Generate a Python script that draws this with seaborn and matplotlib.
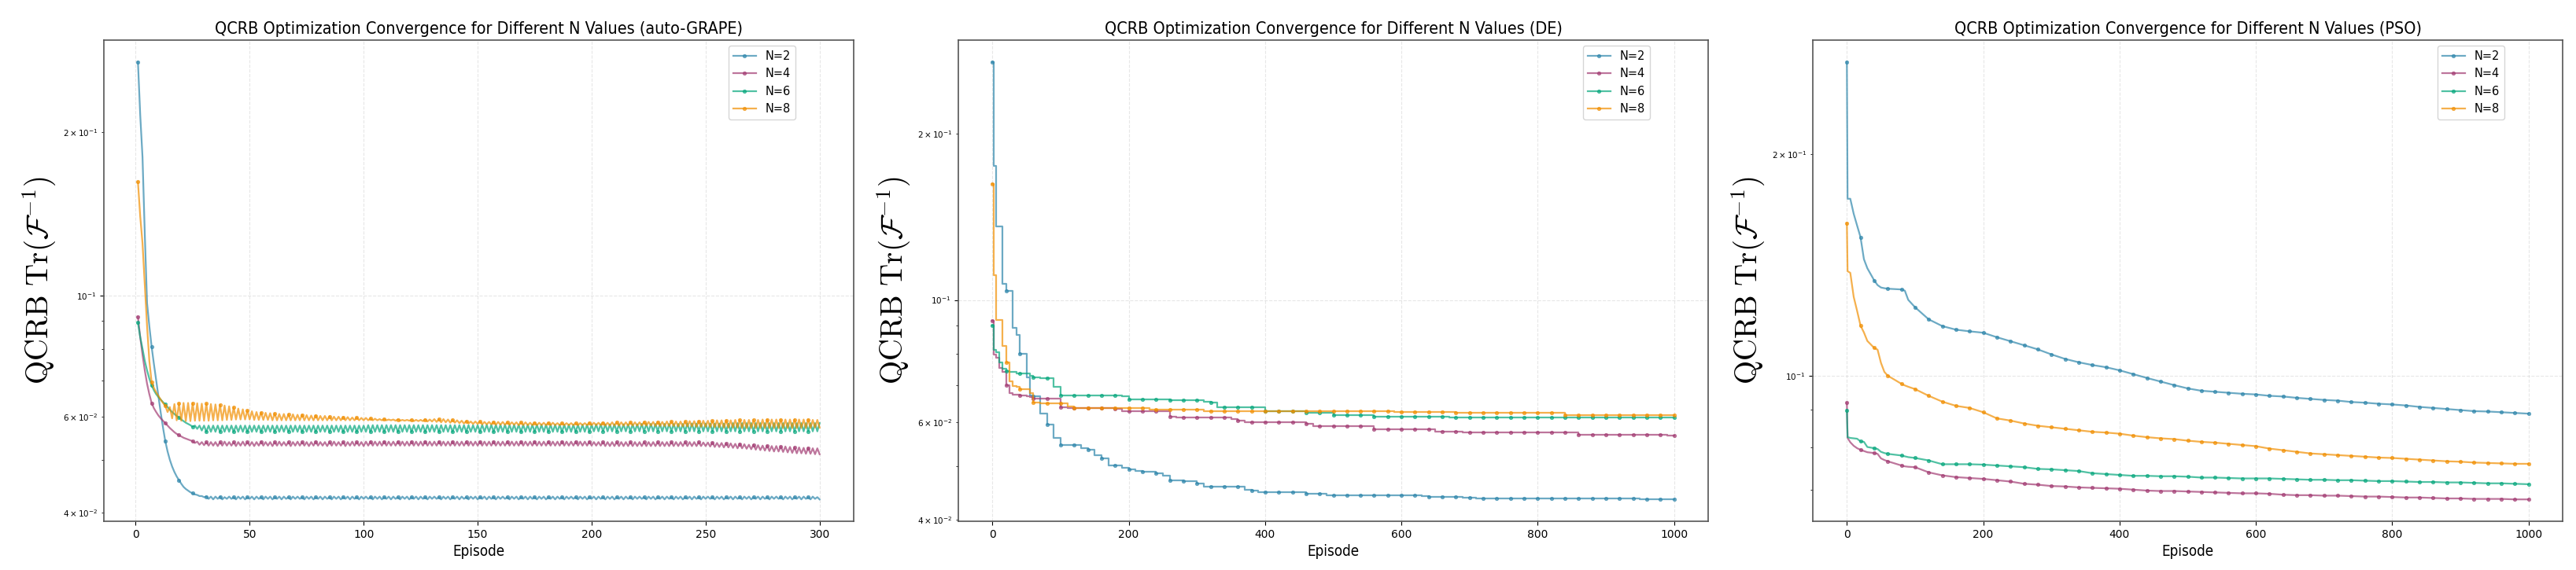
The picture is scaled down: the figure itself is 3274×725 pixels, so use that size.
import matplotlib
matplotlib.use("Agg")
import matplotlib.pyplot as plt
import seaborn as sns

N_LABELS = ["N=2", "N=4", "N=6", "N=8"]
COLORS = ["#2E86AB", "#A23B72", "#06A77D", "#F18F01"]
TITLES = [
    "QCRB Optimization Convergence for Different N Values (auto-GRAPE)",
    "QCRB Optimization Convergence for Different N Values (DE)",
    "QCRB Optimization Convergence for Different N Values (PSO)",
]

# ---- auto-GRAPE: one value per episode, episodes 1..300 ----
AG_N2 = [
    0.269, 0.215, 0.180, 0.130, 0.097, 0.0880, 0.0807, 0.0750, 0.0700, 0.0652,
    0.0610, 0.0573, 0.0541, 0.0518, 0.0500, 0.0486, 0.0475, 0.0466, 0.0459, 0.0452,
    0.0446, 0.0442, 0.0439, 0.0436, 0.0434, 0.0432, 0.0431, 0.0429, 0.0429, 0.0427,
    0.0428, 0.0424, 0.0428, 0.0423, 0.0428, 0.0424, 0.0428, 0.0423, 0.0427, 0.0424,
    0.0428, 0.0424, 0.0427, 0.0423, 0.0428, 0.0424, 0.0428, 0.0423, 0.0427, 0.0424,
    0.0428, 0.0423, 0.0428, 0.0424, 0.0427, 0.0423, 0.0428, 0.0424, 0.0428, 0.0423,
    0.0427, 0.0424, 0.0428, 0.0423, 0.0428, 0.0424, 0.0427, 0.0423, 0.0428, 0.0424,
    0.0428, 0.0424, 0.0427, 0.0423, 0.0428, 0.0424, 0.0428, 0.0423, 0.0427, 0.0424,
    0.0428, 0.0423, 0.0428, 0.0424, 0.0427, 0.0423, 0.0428, 0.0424, 0.0428, 0.0423,
    0.0427, 0.0424, 0.0428, 0.0423, 0.0428, 0.0424, 0.0427, 0.0423, 0.0428, 0.0424,
    0.0428, 0.0424, 0.0427, 0.0423, 0.0428, 0.0424, 0.0428, 0.0423, 0.0427, 0.0424,
    0.0428, 0.0423, 0.0428, 0.0424, 0.0427, 0.0423, 0.0428, 0.0424, 0.0428, 0.0423,
    0.0427, 0.0424, 0.0428, 0.0423, 0.0428, 0.0424, 0.0427, 0.0423, 0.0428, 0.0424,
    0.0428, 0.0424, 0.0427, 0.0423, 0.0428, 0.0424, 0.0428, 0.0423, 0.0427, 0.0424,
    0.0428, 0.0423, 0.0428, 0.0424, 0.0427, 0.0423, 0.0428, 0.0424, 0.0428, 0.0423,
    0.0427, 0.0424, 0.0428, 0.0423, 0.0428, 0.0424, 0.0427, 0.0423, 0.0428, 0.0424,
    0.0428, 0.0424, 0.0427, 0.0423, 0.0428, 0.0424, 0.0428, 0.0423, 0.0427, 0.0424,
    0.0428, 0.0423, 0.0428, 0.0424, 0.0427, 0.0423, 0.0428, 0.0424, 0.0428, 0.0423,
    0.0427, 0.0424, 0.0428, 0.0423, 0.0428, 0.0424, 0.0427, 0.0423, 0.0428, 0.0424,
    0.0428, 0.0424, 0.0427, 0.0423, 0.0428, 0.0424, 0.0428, 0.0423, 0.0427, 0.0424,
    0.0428, 0.0423, 0.0428, 0.0424, 0.0427, 0.0423, 0.0428, 0.0424, 0.0428, 0.0423,
    0.0427, 0.0424, 0.0428, 0.0423, 0.0428, 0.0424, 0.0427, 0.0423, 0.0428, 0.0424,
    0.0428, 0.0424, 0.0427, 0.0423, 0.0428, 0.0424, 0.0428, 0.0423, 0.0427, 0.0424,
    0.0428, 0.0423, 0.0428, 0.0424, 0.0427, 0.0423, 0.0428, 0.0424, 0.0428, 0.0423,
    0.0427, 0.0424, 0.0428, 0.0423, 0.0428, 0.0424, 0.0427, 0.0423, 0.0428, 0.0424,
    0.0428, 0.0424, 0.0427, 0.0423, 0.0428, 0.0424, 0.0428, 0.0423, 0.0427, 0.0424,
    0.0428, 0.0423, 0.0428, 0.0424, 0.0427, 0.0423, 0.0428, 0.0424, 0.0428, 0.0423,
    0.0427, 0.0424, 0.0428, 0.0423, 0.0428, 0.0424, 0.0427, 0.0423, 0.0428, 0.0424,
    0.0428, 0.0424, 0.0427, 0.0423, 0.0428, 0.0424, 0.0428, 0.0423, 0.0427, 0.0424,
    0.0428, 0.0423, 0.0428, 0.0424, 0.0427, 0.0423, 0.0428, 0.0424, 0.0427, 0.0423,
]
AG_N4 = [
    0.0915, 0.0840, 0.0780, 0.0730, 0.0690, 0.0660, 0.0636, 0.0622, 0.0612, 0.0603,
    0.0596, 0.0590, 0.0584, 0.0578, 0.0572, 0.0567, 0.0562, 0.0558, 0.0555, 0.0552,
    0.0549, 0.0547, 0.0545, 0.0543, 0.0541, 0.0537, 0.0540, 0.0533, 0.0539, 0.0532,
    0.0539, 0.0531, 0.0539, 0.0531, 0.0539, 0.0530, 0.0539, 0.0531, 0.0540, 0.0531,
    0.0539, 0.0531, 0.0539, 0.0530, 0.0539, 0.0531, 0.0540, 0.0531, 0.0539, 0.0531,
    0.0539, 0.0530, 0.0539, 0.0531, 0.0540, 0.0531, 0.0539, 0.0531, 0.0539, 0.0530,
    0.0539, 0.0531, 0.0540, 0.0531, 0.0539, 0.0531, 0.0539, 0.0530, 0.0539, 0.0531,
    0.0540, 0.0531, 0.0539, 0.0531, 0.0539, 0.0530, 0.0539, 0.0531, 0.0540, 0.0531,
    0.0539, 0.0531, 0.0539, 0.0530, 0.0539, 0.0531, 0.0540, 0.0531, 0.0539, 0.0531,
    0.0539, 0.0530, 0.0539, 0.0531, 0.0540, 0.0531, 0.0539, 0.0531, 0.0539, 0.0530,
    0.0540, 0.0531, 0.0540, 0.0531, 0.0540, 0.0531, 0.0540, 0.0531, 0.0540, 0.0531,
    0.0540, 0.0531, 0.0540, 0.0531, 0.0540, 0.0531, 0.0540, 0.0531, 0.0540, 0.0531,
    0.0540, 0.0531, 0.0540, 0.0531, 0.0540, 0.0531, 0.0540, 0.0531, 0.0540, 0.0531,
    0.0540, 0.0531, 0.0540, 0.0531, 0.0540, 0.0531, 0.0540, 0.0531, 0.0540, 0.0531,
    0.0540, 0.0531, 0.0540, 0.0531, 0.0540, 0.0531, 0.0540, 0.0531, 0.0540, 0.0531,
    0.0540, 0.0531, 0.0540, 0.0531, 0.0540, 0.0531, 0.0540, 0.0531, 0.0540, 0.0531,
    0.0540, 0.0531, 0.0540, 0.0531, 0.0540, 0.0531, 0.0540, 0.0531, 0.0540, 0.0531,
    0.0540, 0.0531, 0.0540, 0.0531, 0.0540, 0.0531, 0.0540, 0.0531, 0.0540, 0.0531,
    0.0540, 0.0531, 0.0540, 0.0531, 0.0540, 0.0531, 0.0540, 0.0531, 0.0540, 0.0531,
    0.0540, 0.0531, 0.0540, 0.0531, 0.0540, 0.0531, 0.0540, 0.0531, 0.0540, 0.0531,
    0.0539, 0.0531, 0.0539, 0.0531, 0.0539, 0.0530, 0.0539, 0.0530, 0.0539, 0.0530,
    0.0539, 0.0530, 0.0539, 0.0530, 0.0539, 0.0530, 0.0539, 0.0530, 0.0539, 0.0530,
    0.0539, 0.0530, 0.0539, 0.0530, 0.0539, 0.0530, 0.0539, 0.0530, 0.0539, 0.0530,
    0.0539, 0.0530, 0.0539, 0.0530, 0.0539, 0.0530, 0.0539, 0.0530, 0.0539, 0.0530,
    0.0539, 0.0530, 0.0539, 0.0530, 0.0539, 0.0530, 0.0539, 0.0530, 0.0538, 0.0530,
    0.0538, 0.0529, 0.0538, 0.0528, 0.0537, 0.0528, 0.0537, 0.0527, 0.0536, 0.0527,
    0.0536, 0.0526, 0.0535, 0.0525, 0.0535, 0.0525, 0.0534, 0.0524, 0.0533, 0.0523,
    0.0533, 0.0522, 0.0532, 0.0521, 0.0531, 0.0520, 0.0531, 0.0519, 0.0530, 0.0518,
    0.0530, 0.0518, 0.0529, 0.0517, 0.0529, 0.0516, 0.0528, 0.0515, 0.0527, 0.0514,
    0.0527, 0.0514, 0.0526, 0.0513, 0.0526, 0.0513, 0.0525, 0.0512, 0.0525, 0.0512,
]
AG_N6 = [
    0.0893, 0.0840, 0.0800, 0.0760, 0.0730, 0.0705, 0.0685, 0.0671, 0.0660, 0.0652,
    0.0645, 0.0638, 0.0632, 0.0625, 0.0618, 0.0612, 0.0607, 0.0602, 0.0598, 0.0593,
    0.0589, 0.0585, 0.0582, 0.0579, 0.0575, 0.0578, 0.0570, 0.0578, 0.0566, 0.0578,
    0.0563, 0.0578, 0.0563, 0.0578, 0.0563, 0.0578, 0.0563, 0.0578, 0.0563, 0.0578,
    0.0563, 0.0578, 0.0563, 0.0578, 0.0563, 0.0578, 0.0563, 0.0578, 0.0563, 0.0578,
    0.0563, 0.0578, 0.0563, 0.0578, 0.0563, 0.0578, 0.0563, 0.0578, 0.0563, 0.0578,
    0.0563, 0.0578, 0.0563, 0.0578, 0.0563, 0.0578, 0.0563, 0.0578, 0.0563, 0.0578,
    0.0563, 0.0578, 0.0563, 0.0578, 0.0563, 0.0578, 0.0563, 0.0578, 0.0563, 0.0578,
    0.0563, 0.0578, 0.0563, 0.0578, 0.0563, 0.0578, 0.0563, 0.0578, 0.0563, 0.0578,
    0.0563, 0.0578, 0.0563, 0.0578, 0.0563, 0.0578, 0.0563, 0.0578, 0.0563, 0.0578,
    0.0563, 0.0579, 0.0563, 0.0579, 0.0563, 0.0579, 0.0563, 0.0579, 0.0563, 0.0579,
    0.0563, 0.0579, 0.0563, 0.0579, 0.0563, 0.0579, 0.0563, 0.0579, 0.0563, 0.0579,
    0.0563, 0.0579, 0.0563, 0.0579, 0.0563, 0.0579, 0.0563, 0.0579, 0.0563, 0.0579,
    0.0563, 0.0579, 0.0563, 0.0579, 0.0563, 0.0579, 0.0563, 0.0579, 0.0563, 0.0579,
    0.0563, 0.0579, 0.0563, 0.0579, 0.0563, 0.0579, 0.0563, 0.0579, 0.0563, 0.0579,
    0.0563, 0.0580, 0.0563, 0.0580, 0.0563, 0.0580, 0.0563, 0.0580, 0.0563, 0.0580,
    0.0563, 0.0580, 0.0563, 0.0580, 0.0563, 0.0580, 0.0563, 0.0580, 0.0563, 0.0580,
    0.0563, 0.0580, 0.0563, 0.0580, 0.0563, 0.0580, 0.0563, 0.0580, 0.0563, 0.0580,
    0.0563, 0.0580, 0.0563, 0.0580, 0.0563, 0.0580, 0.0563, 0.0580, 0.0563, 0.0580,
    0.0563, 0.0580, 0.0563, 0.0580, 0.0563, 0.0580, 0.0563, 0.0580, 0.0563, 0.0580,
    0.0564, 0.0581, 0.0564, 0.0581, 0.0564, 0.0581, 0.0564, 0.0581, 0.0564, 0.0581,
    0.0564, 0.0581, 0.0564, 0.0581, 0.0564, 0.0581, 0.0564, 0.0581, 0.0564, 0.0581,
    0.0564, 0.0582, 0.0564, 0.0582, 0.0564, 0.0582, 0.0564, 0.0582, 0.0564, 0.0582,
    0.0564, 0.0582, 0.0564, 0.0582, 0.0564, 0.0582, 0.0564, 0.0582, 0.0564, 0.0582,
    0.0564, 0.0583, 0.0564, 0.0583, 0.0564, 0.0583, 0.0564, 0.0583, 0.0564, 0.0583,
    0.0564, 0.0583, 0.0564, 0.0583, 0.0564, 0.0583, 0.0564, 0.0583, 0.0564, 0.0583,
    0.0564, 0.0584, 0.0564, 0.0584, 0.0564, 0.0584, 0.0564, 0.0584, 0.0564, 0.0584,
    0.0564, 0.0584, 0.0564, 0.0584, 0.0564, 0.0584, 0.0564, 0.0584, 0.0564, 0.0584,
    0.0564, 0.0584, 0.0564, 0.0584, 0.0564, 0.0584, 0.0564, 0.0584, 0.0564, 0.0584,
    0.0564, 0.0584, 0.0564, 0.0584, 0.0564, 0.0584, 0.0564, 0.0584, 0.0564, 0.0584,
]
AG_N8 = [
    0.162, 0.140, 0.125, 0.105, 0.088, 0.076, 0.0694, 0.0678, 0.0665, 0.0655,
    0.0645, 0.0636, 0.0628, 0.0612, 0.0625, 0.0596, 0.0633, 0.0591, 0.0635, 0.0590,
    0.0636, 0.0589, 0.0636, 0.0589, 0.0635, 0.0590, 0.0635, 0.0590, 0.0634, 0.0590,
    0.0634, 0.0590, 0.0633, 0.0591, 0.0632, 0.0591, 0.0631, 0.0591, 0.0629, 0.0592,
    0.0627, 0.0592, 0.0624, 0.0593, 0.0621, 0.0593, 0.0619, 0.0593, 0.0616, 0.0593,
    0.0614, 0.0592, 0.0612, 0.0592, 0.0611, 0.0592, 0.0610, 0.0592, 0.0609, 0.0591,
    0.0608, 0.0591, 0.0607, 0.0591, 0.0607, 0.0591, 0.0606, 0.0591, 0.0606, 0.0591,
    0.0605, 0.0591, 0.0605, 0.0591, 0.0604, 0.0591, 0.0603, 0.0591, 0.0603, 0.0591,
    0.0602, 0.0591, 0.0602, 0.0591, 0.0601, 0.0591, 0.0600, 0.0591, 0.0600, 0.0591,
    0.0599, 0.0591, 0.0599, 0.0591, 0.0598, 0.0591, 0.0598, 0.0591, 0.0597, 0.0591,
    0.0597, 0.0591, 0.0596, 0.0591, 0.0595, 0.0591, 0.0594, 0.0591, 0.0594, 0.0591,
    0.0593, 0.0591, 0.0593, 0.0590, 0.0593, 0.0590, 0.0592, 0.0590, 0.0592, 0.0590,
    0.0592, 0.0589, 0.0592, 0.0589, 0.0592, 0.0589, 0.0593, 0.0588, 0.0593, 0.0588,
    0.0594, 0.0587, 0.0594, 0.0586, 0.0594, 0.0586, 0.0593, 0.0585, 0.0592, 0.0585,
    0.0591, 0.0584, 0.0590, 0.0583, 0.0589, 0.0583, 0.0588, 0.0582, 0.0588, 0.0582,
    0.0588, 0.0581, 0.0587, 0.0581, 0.0587, 0.0581, 0.0587, 0.0580, 0.0587, 0.0580,
    0.0587, 0.0580, 0.0586, 0.0580, 0.0586, 0.0580, 0.0586, 0.0579, 0.0586, 0.0579,
    0.0586, 0.0579, 0.0585, 0.0579, 0.0585, 0.0579, 0.0585, 0.0579, 0.0585, 0.0579,
    0.0585, 0.0579, 0.0585, 0.0579, 0.0584, 0.0579, 0.0584, 0.0579, 0.0584, 0.0579,
    0.0584, 0.0579, 0.0584, 0.0579, 0.0584, 0.0579, 0.0584, 0.0579, 0.0585, 0.0579,
    0.0585, 0.0579, 0.0585, 0.0579, 0.0585, 0.0578, 0.0585, 0.0578, 0.0586, 0.0578,
    0.0586, 0.0578, 0.0586, 0.0578, 0.0586, 0.0578, 0.0586, 0.0578, 0.0586, 0.0578,
    0.0586, 0.0578, 0.0587, 0.0578, 0.0587, 0.0578, 0.0587, 0.0577, 0.0587, 0.0577,
    0.0587, 0.0577, 0.0588, 0.0577, 0.0588, 0.0577, 0.0588, 0.0576, 0.0588, 0.0576,
    0.0588, 0.0576, 0.0589, 0.0576, 0.0589, 0.0575, 0.0589, 0.0575, 0.0590, 0.0575,
    0.0590, 0.0574, 0.0590, 0.0574, 0.0591, 0.0574, 0.0591, 0.0573, 0.0591, 0.0573,
    0.0591, 0.0573, 0.0592, 0.0573, 0.0592, 0.0572, 0.0592, 0.0572, 0.0592, 0.0572,
    0.0592, 0.0572, 0.0592, 0.0572, 0.0593, 0.0572, 0.0593, 0.0572, 0.0593, 0.0572,
    0.0593, 0.0572, 0.0593, 0.0572, 0.0593, 0.0572, 0.0593, 0.0572, 0.0593, 0.0572,
    0.0593, 0.0572, 0.0593, 0.0572, 0.0593, 0.0572, 0.0592, 0.0573, 0.0592, 0.0573,
]

# ---- DE: best value so far, read at these episodes ----
DE_EP = [0, 2, 5, 10, 15, 20, 25, 30, 35, 40, 45, 50, 55, 60] + list(range(70, 1001, 10))
DE_N2 = [
    0.270, 0.175, 0.136, 0.136, 0.107, 0.104, 0.104, 0.089, 0.0865, 0.0799, 0.0799, 0.0725, 0.0672, 0.0669,
    0.0623, 0.0595, 0.0562, 0.0546, 0.0546, 0.0546, 0.0538, 0.0535, 0.0523, 0.0517,
    0.0501, 0.0501, 0.0496, 0.0493, 0.0490, 0.0488, 0.0488, 0.0485, 0.0480, 0.0471,
    0.0471, 0.0470, 0.0470, 0.0465, 0.0458, 0.0458, 0.0458, 0.0458, 0.0458, 0.0458,
    0.0453, 0.0451, 0.0449, 0.0449, 0.0449, 0.0449, 0.0449, 0.0449, 0.0449, 0.0446,
    0.0446, 0.0446, 0.0443, 0.0443, 0.0443, 0.0443, 0.0443, 0.0443, 0.0443, 0.0443,
    0.0443, 0.0443, 0.0442, 0.0442, 0.0442, 0.0442, 0.0441, 0.0440, 0.0440, 0.0440,
    0.0440, 0.0440, 0.0438, 0.0438, 0.0437, 0.0437, 0.0437, 0.0437, 0.0437, 0.0437,
    0.0437, 0.0437, 0.0437, 0.0437, 0.0437, 0.0436, 0.0436, 0.0436, 0.0436, 0.0436,
    0.0436, 0.0436, 0.0436, 0.0436, 0.0436, 0.0436, 0.0436, 0.0436, 0.0435, 0.0435,
    0.0435, 0.0435, 0.0435, 0.0435,
]
DE_N4 = [
    0.0918, 0.0795, 0.0786, 0.0752, 0.0741, 0.0700, 0.0678, 0.0674, 0.0673, 0.0672, 0.0671, 0.0670, 0.0666, 0.0662,
    0.0662, 0.0662, 0.0662, 0.0638, 0.0637, 0.0637, 0.0637, 0.0637, 0.0637, 0.0637,
    0.0637, 0.0635, 0.0629, 0.0628, 0.0628, 0.0628, 0.0628, 0.0628, 0.0628, 0.0614,
    0.0613, 0.0613, 0.0613, 0.0613, 0.0613, 0.0613, 0.0613, 0.0613, 0.0608, 0.0605,
    0.0600, 0.0600, 0.0600, 0.0600, 0.0600, 0.0600, 0.0600, 0.0600, 0.0600, 0.0597,
    0.0590, 0.0590, 0.0590, 0.0590, 0.0590, 0.0590, 0.0590, 0.0590, 0.0590, 0.0583,
    0.0583, 0.0583, 0.0583, 0.0583, 0.0583, 0.0583, 0.0583, 0.0583, 0.0577, 0.0577,
    0.0577, 0.0577, 0.0575, 0.0575, 0.0575, 0.0575, 0.0575, 0.0575, 0.0575, 0.0575,
    0.0575, 0.0575, 0.0575, 0.0575, 0.0575, 0.0575, 0.0575, 0.0575, 0.0575, 0.0570,
    0.0570, 0.0570, 0.0570, 0.0570, 0.0570, 0.0570, 0.0570, 0.0570, 0.0570, 0.0569,
    0.0569, 0.0569, 0.0568, 0.0568,
]
DE_N6 = [
    0.0898, 0.0812, 0.0803, 0.0770, 0.0750, 0.0742, 0.0741, 0.0740, 0.0736, 0.0735, 0.0735, 0.0735, 0.0728, 0.0723,
    0.0722, 0.0721, 0.0695, 0.0672, 0.0672, 0.0672, 0.0672, 0.0672, 0.0672, 0.0672,
    0.0672, 0.0672, 0.0668, 0.0661, 0.0661, 0.0661, 0.0661, 0.0661, 0.0661, 0.0658,
    0.0658, 0.0658, 0.0658, 0.0658, 0.0654, 0.0652, 0.0640, 0.0640, 0.0640, 0.0640,
    0.0640, 0.0640, 0.0640, 0.0628, 0.0628, 0.0628, 0.0628, 0.0628, 0.0628, 0.0624,
    0.0624, 0.0624, 0.0624, 0.0619, 0.0619, 0.0619, 0.0619, 0.0619, 0.0619, 0.0615,
    0.0615, 0.0615, 0.0615, 0.0615, 0.0615, 0.0615, 0.0615, 0.0615, 0.0615, 0.0615,
    0.0613, 0.0613, 0.0613, 0.0613, 0.0613, 0.0613, 0.0613, 0.0613, 0.0613, 0.0613,
    0.0613, 0.0613, 0.0613, 0.0613, 0.0613, 0.0613, 0.0613, 0.0613, 0.0613, 0.0613,
    0.0613, 0.0613, 0.0613, 0.0613, 0.0613, 0.0613, 0.0613, 0.0613, 0.0613, 0.0613,
    0.0613, 0.0613, 0.0613, 0.0613,
]
DE_N8 = [
    0.162, 0.111, 0.092, 0.092, 0.0825, 0.0770, 0.0711, 0.0698, 0.0695, 0.0689, 0.0689, 0.0689, 0.0678, 0.0652,
    0.0650, 0.0650, 0.0650, 0.0650, 0.0642, 0.0637, 0.0637, 0.0637, 0.0637, 0.0637,
    0.0637, 0.0637, 0.0637, 0.0637, 0.0637, 0.0637, 0.0632, 0.0632, 0.0632, 0.0632,
    0.0632, 0.0632, 0.0632, 0.0632, 0.0629, 0.0629, 0.0629, 0.0629, 0.0629, 0.0629,
    0.0629, 0.0629, 0.0629, 0.0629, 0.0629, 0.0629, 0.0629, 0.0629, 0.0629, 0.0629,
    0.0629, 0.0629, 0.0629, 0.0629, 0.0629, 0.0629, 0.0629, 0.0629, 0.0629, 0.0629,
    0.0629, 0.0629, 0.0627, 0.0627, 0.0627, 0.0627, 0.0627, 0.0627, 0.0627, 0.0627,
    0.0627, 0.0624, 0.0624, 0.0624, 0.0624, 0.0624, 0.0624, 0.0624, 0.0624, 0.0624,
    0.0624, 0.0624, 0.0624, 0.0624, 0.0624, 0.0624, 0.0624, 0.0618, 0.0618, 0.0618,
    0.0618, 0.0618, 0.0618, 0.0618, 0.0618, 0.0618, 0.0618, 0.0618, 0.0618, 0.0618,
    0.0618, 0.0618, 0.0618, 0.0618,
]

# ---- PSO ----
PSO_EP = [0, 1, 5, 10, 15, 20, 25, 30, 40, 45, 50, 55, 60, 80, 85, 90] + list(range(100, 1001, 20))
PSO_N2 = [
    0.267, 0.174, 0.174, 0.166, 0.160, 0.1543, 0.1440, 0.1400, 0.1348, 0.1328, 0.1318, 0.1315, 0.1313, 0.1310, 0.1305, 0.1268,
    0.1239, 0.1193, 0.1168, 0.1155, 0.1149, 0.1144, 0.1128, 0.1114, 0.1100, 0.1086,
    0.1069, 0.1054, 0.1043, 0.1034, 0.1027, 0.1017, 0.1005, 0.0993, 0.0982, 0.0971,
    0.0961, 0.0954, 0.0951, 0.0948, 0.0945, 0.0943, 0.0939, 0.0937, 0.0933, 0.0930,
    0.0927, 0.0925, 0.0921, 0.0919, 0.0916, 0.0914, 0.0911, 0.0907, 0.0904, 0.0901,
    0.0898, 0.0895, 0.0894, 0.0892, 0.0890, 0.0888,
]
PSO_N4 = [
    0.0919, 0.0823, 0.0812, 0.0803, 0.0797, 0.0793, 0.0790, 0.0787, 0.0785, 0.0783, 0.0772, 0.0768, 0.0765, 0.0755, 0.0753, 0.0752,
    0.0751, 0.0739, 0.0732, 0.0728, 0.0726, 0.0724, 0.0721, 0.0718, 0.0713, 0.0711,
    0.0708, 0.0707, 0.0705, 0.0704, 0.0703, 0.0702, 0.0700, 0.0698, 0.0697, 0.0697,
    0.0696, 0.0695, 0.0694, 0.0693, 0.0692, 0.0692, 0.0691, 0.0689, 0.0688, 0.0688,
    0.0687, 0.0687, 0.0686, 0.0685, 0.0685, 0.0684, 0.0683, 0.0683, 0.0682, 0.0681,
    0.0681, 0.0680, 0.0680, 0.0680, 0.0679, 0.0679,
]
PSO_N6 = [
    0.0898, 0.0825, 0.0823, 0.0822, 0.0821, 0.0814, 0.0813, 0.0800, 0.0797, 0.0795, 0.0788, 0.0785, 0.0783, 0.0779, 0.0777, 0.0775,
    0.0773, 0.0767, 0.0758, 0.0758, 0.0758, 0.0757, 0.0755, 0.0753, 0.0751, 0.0747,
    0.0746, 0.0744, 0.0742, 0.0737, 0.0735, 0.0733, 0.0731, 0.0731, 0.0730, 0.0730,
    0.0729, 0.0727, 0.0727, 0.0726, 0.0725, 0.0725, 0.0725, 0.0724, 0.0723, 0.0722,
    0.0722, 0.0721, 0.0721, 0.0720, 0.0719, 0.0719, 0.0718, 0.0717, 0.0717, 0.0716,
    0.0716, 0.0715, 0.0714, 0.0714, 0.0713, 0.0712,
]
PSO_N8 = [
    0.1612, 0.1387, 0.1380, 0.128, 0.1225, 0.1170, 0.1145, 0.1115, 0.1091, 0.1085, 0.1041, 0.1012, 0.1000, 0.0975, 0.0970, 0.0966,
    0.0959, 0.0939, 0.0922, 0.0910, 0.0904, 0.0892, 0.0875, 0.0869, 0.0861, 0.0855,
    0.0851, 0.0847, 0.0843, 0.0839, 0.0837, 0.0834, 0.0829, 0.0825, 0.0822, 0.0820,
    0.0816, 0.0813, 0.0811, 0.0808, 0.0805, 0.0802, 0.0796, 0.0792, 0.0788, 0.0784,
    0.0782, 0.0780, 0.0778, 0.0776, 0.0774, 0.0773, 0.0771, 0.0769, 0.0767, 0.0765,
    0.0764, 0.0762, 0.0761, 0.0760, 0.0759, 0.0759,
]


def draw_panel(ax, episodes, series, title, mark_idx, steps=False):
    extra = {"drawstyle": "steps-post"} if steps else {}
    for vals, lab, col in zip(series, N_LABELS, COLORS):
        n = min(len(vals), len(episodes))
        sns.lineplot(x=episodes[:n], y=vals[:n], ax=ax, color=col, label=lab,
                     marker="o", markersize=3.2,
                     markevery=[i for i in mark_idx if i < n],
                     markeredgecolor=col, markeredgewidth=0.5,
                     linewidth=1.6, alpha=0.7, errorbar=None, **extra)
    ax.set_yscale("log")
    ax.set_title(title, fontsize=15.5, fontstretch="condensed")
    ax.set_xlabel("Episode", fontsize=13.5, fontstretch="condensed")
    ax.set_ylabel(r"$\mathrm{QCRB}\ \mathrm{Tr}(\mathcal{F}^{-1})$",
                  fontsize=28, math_fontfamily="cm")
    ax.grid(True, which="major", alpha=0.3, linestyle="--")
    ax.tick_params(axis="x", labelsize=10)
    ax.tick_params(axis="y", which="both", labelsize=7.5)
    for sp in ax.spines.values():
        sp.set_color("#555555")
        sp.set_linewidth(1.2)
    ax.legend(loc="upper left", bbox_to_anchor=(0.833, 0.988),
              borderaxespad=0, fontsize=10.5)


fig = plt.figure(figsize=(32.74, 7.25), dpi=100)
W, H = 3274.0, 725.0
lefts = [132, 1218, 2304]
axes = [fig.add_axes([l / W, 62 / H, 953 / W, 612 / H]) for l in lefts]

ag_ep = list(range(1, len(AG_N2) + 1))
ag_marks = list(range(0, len(ag_ep), 6))
de_marks = [i for i, e in enumerate(DE_EP) if e % 20 == 0]
pso_marks = [i for i, e in enumerate(PSO_EP) if e % 20 == 0]

draw_panel(axes[0], ag_ep, [AG_N2, AG_N4, AG_N6, AG_N8], TITLES[0], ag_marks)
draw_panel(axes[1], DE_EP, [DE_N2, DE_N4, DE_N6, DE_N8], TITLES[1], de_marks, steps=True)
draw_panel(axes[2], PSO_EP, [PSO_N2, PSO_N4, PSO_N6, PSO_N8], TITLES[2], pso_marks)

fig.savefig("out.png", dpi=100)
plt.close(fig)
